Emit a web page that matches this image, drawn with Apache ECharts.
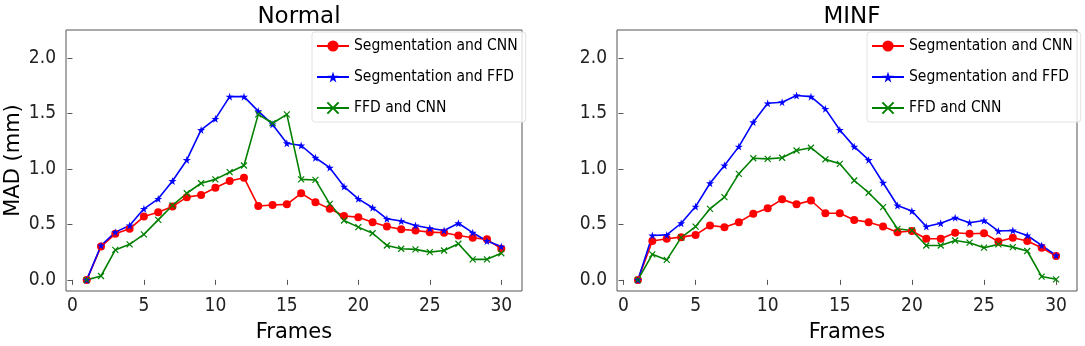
<!DOCTYPE html>
<html>
<head>
<meta charset="utf-8">
<script src="https://cdn.jsdelivr.net/npm/echarts@6/dist/echarts.min.js"></script>
<style>
	html, body { margin: 0; padding: 0; background: #fff; }
	#chart { width: 1085px; height: 346px; }
</style>
</head>
<body>
<div id="chart"></div>
<script>
// frames 1..30
var frames = [];
for (var i = 1; i <= 30; i++) frames.push(i);

var xTicks = [0, 5, 10, 15, 20, 25, 30];
var yTicks = [0, 0.5, 1.0, 1.5, 2.0];
var titles = ['Normal', 'MINF'];
var seriesNames = ['Segmentation and CNN', 'Segmentation and FFD', 'FFD and CNN'];

// Normal
var normalSegCnn = [0.00, 0.30, 0.415, 0.46, 0.57, 0.61, 0.66, 0.745, 0.765, 0.83, 0.89, 0.92, 0.665, 0.675, 0.68,
	0.78, 0.70, 0.64, 0.575, 0.565, 0.52, 0.48, 0.455, 0.445, 0.43, 0.425, 0.40, 0.38, 0.365, 0.28];
var normalSegFfd = [0.00, 0.31, 0.43, 0.49, 0.64, 0.73, 0.89, 1.08, 1.35, 1.45, 1.65, 1.65, 1.52, 1.40, 1.23,
	1.21, 1.10, 1.01, 0.84, 0.73, 0.65, 0.55, 0.53, 0.49, 0.465, 0.445, 0.51, 0.425, 0.35, 0.30];
var normalFfdCnn = [0.00, 0.035, 0.27, 0.32, 0.41, 0.54, 0.67, 0.78, 0.87, 0.905, 0.97, 1.03, 1.49, 1.41, 1.49,
	0.905, 0.90, 0.685, 0.535, 0.475, 0.42, 0.31, 0.28, 0.275, 0.25, 0.265, 0.325, 0.185, 0.185, 0.24];

// MINF
var minfSegCnn = [0.00, 0.35, 0.37, 0.385, 0.405, 0.49, 0.475, 0.52, 0.595, 0.645, 0.725, 0.68, 0.715, 0.60, 0.60,
	0.54, 0.52, 0.48, 0.43, 0.44, 0.37, 0.37, 0.425, 0.415, 0.42, 0.345, 0.38, 0.35, 0.29, 0.215];
var minfSegFfd = [0.00, 0.40, 0.405, 0.51, 0.66, 0.87, 1.03, 1.20, 1.42, 1.59, 1.60, 1.66, 1.65, 1.54, 1.35,
	1.20, 1.08, 0.875, 0.67, 0.62, 0.48, 0.51, 0.56, 0.515, 0.535, 0.44, 0.445, 0.40, 0.31, 0.22];
var minfFfdCnn = [0.00, 0.23, 0.18, 0.38, 0.48, 0.64, 0.745, 0.955, 1.095, 1.09, 1.10, 1.165, 1.19, 1.085, 1.045,
	0.895, 0.785, 0.655, 0.46, 0.445, 0.31, 0.31, 0.355, 0.335, 0.29, 0.32, 0.295, 0.26, 0.03, 0.005];

var panels = [
	[normalSegCnn, normalSegFfd, normalFfdCnn],
	[minfSegCnn, minfSegFfd, minfFfdCnn]
];

var colors = ['#ff0000', '#0000ff', '#008000'];
var starPath = 'path://M50,0 L61,35 L98,35 L68,57 L79,91 L50,70 L21,91 L32,57 L2,35 L39,35 Z';
var crossPath = 'path://M0,0 L10,10 M10,0 L0,10';
var symbols = ['circle', starPath, crossPath];
var symbolSizes = [8, 8, 6];

var font = 'DejaVu Sans';
var narrowFont = '"DejaVu Sans Condensed", "DejaVu Sans"';
var gridPos = [
	{left: 66, top: 30, width: 456, height: 261},
	{left: 617, top: 30, width: 460, height: 261}
];

function pairs(arr) {
	return arr.map(function (v, i) { return [frames[i], v]; });
}

var grid = [], xAxis = [], yAxis = [], title = [], legend = [], series = [];

gridPos.forEach(function (g, p) {
	grid.push({
		left: g.left, top: g.top, width: g.width, height: g.height,
		outerBoundsMode: 'none',
		containLabel: false,
		show: true, borderColor: '#555', borderWidth: 1, backgroundColor: '#fff'
	});
	title.push({
		text: titles[p],
		left: g.left + g.width / 2,
		textAlign: 'center',
		top: 1,
		textStyle: {fontFamily: font, fontSize: 23, fontWeight: 'normal', color: '#000'}
	});
	xAxis.push({
		type: 'value', gridIndex: p, min: -0.45, max: 31.45,
		name: 'Frames', nameLocation: 'middle', nameGap: 31,
		nameTextStyle: {fontFamily: font, fontSize: 21, color: '#000'},
		axisLine: {show: false},
		axisTick: {show: true, length: 5, inside: false, customValues: xTicks, lineStyle: {color: '#555'}},
		axisLabel: {customValues: xTicks, fontFamily: narrowFont, fontSize: 19, color: '#222', margin: 6},
		splitLine: {show: false}
	});
	yAxis.push({
		type: 'value', gridIndex: p, min: -0.1, max: 2.25,
		name: p === 0 ? 'MAD (mm)' : '', nameLocation: 'middle', nameGap: 42,
		nameTextStyle: {fontFamily: font, fontSize: 21, color: '#000'},
		axisLine: {show: false},
		axisTick: {show: true, length: 5, customValues: yTicks, lineStyle: {color: '#555'}},
		axisLabel: {
			customValues: yTicks, fontFamily: narrowFont, fontSize: 19, color: '#222', margin: 10,
			formatter: function (v) { return v.toFixed(1); }
		},
		splitLine: {show: false}
	});
	legend.push({
		orient: 'vertical',
		left: g.left + g.width - 210,
		top: g.top + 2,
		itemWidth: 32,
		itemHeight: 14,
		itemGap: 15,
		padding: [6, 8, 6, 4],
		borderColor: '#e2e2e2',
		borderWidth: 1,
		borderRadius: 3,
		backgroundColor: 'rgba(255,255,255,0.8)',
		textStyle: {fontFamily: narrowFont, fontSize: 15.5, color: '#000'},
		data: seriesNames
	});
	panels[p].forEach(function (vals, k) {
		series.push({
			name: seriesNames[k],
			type: 'line',
			xAxisIndex: p,
			yAxisIndex: p,
			data: pairs(vals),
			symbol: symbols[k],
			symbolSize: symbolSizes[k],
			showSymbol: true,
			lineStyle: {color: colors[k], width: 1.6},
			itemStyle: {color: colors[k], borderColor: colors[k], borderWidth: k === 2 ? 1.2 : 0},
			animation: false
		});
	});
});

var chart = echarts.init(document.getElementById('chart'), null, {renderer: 'canvas'});
chart.setOption({
	backgroundColor: '#fff',
	animation: false,
	title: title,
	grid: grid,
	xAxis: xAxis,
	yAxis: yAxis,
	legend: legend,
	tooltip: {show: false},
	series: series
});
</script>
</body>
</html>
